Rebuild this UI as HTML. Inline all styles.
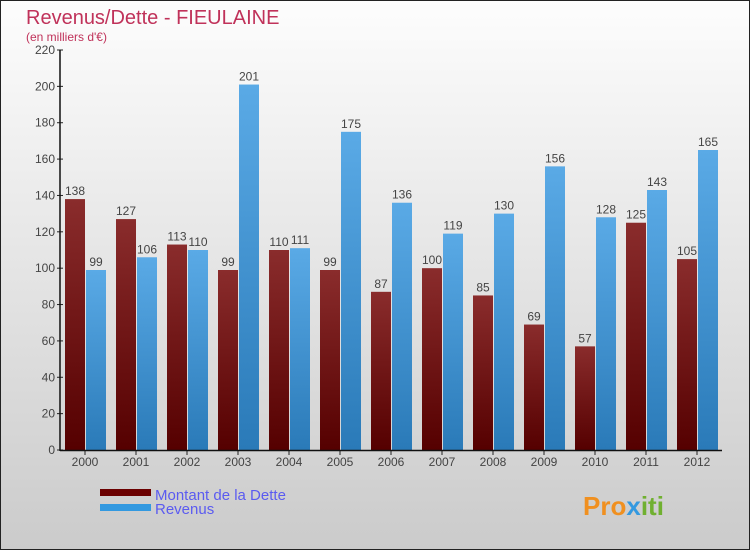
<!DOCTYPE html>
<html><head><meta charset="utf-8"><style>
body{margin:0;width:750px;height:550px;overflow:hidden;font-family:"Liberation Sans",sans-serif}
</style></head><body>
<svg width="750" height="550" xmlns="http://www.w3.org/2000/svg">
<defs>
<linearGradient id="bg" x1="0" y1="0" x2="0" y2="1"><stop offset="0" stop-color="#fdfdfd"/><stop offset="1" stop-color="#cbcbcb"/></linearGradient>
<linearGradient id="gd" x1="0" y1="0" x2="0" y2="1"><stop offset="0" stop-color="#8a2c2c"/><stop offset="1" stop-color="#550000"/></linearGradient>
<linearGradient id="gr" x1="0" y1="0" x2="0" y2="1"><stop offset="0" stop-color="#5aaae6"/><stop offset="1" stop-color="#2a7ab8"/></linearGradient>
</defs>
<rect x="0.5" y="0.5" width="749" height="549" fill="url(#bg)" stroke="#222"/>
<text x="26" y="24" font-size="20" fill="#c0325a">Revenus/Dette - FIEULAINE</text>
<text x="26" y="41" font-size="12" fill="#c0325a">(en milliers d'€)</text>
<g id="plot"></g>
<g>
<rect x="100" y="489" width="51" height="7" fill="#6b0000"/>
<text x="155" y="500" font-size="15" fill="#5b5bf0">Montant de la Dette</text>
<rect x="100" y="504" width="51" height="7" fill="#3399e0"/>
<text x="155" y="514" font-size="15" fill="#5b5bf0">Revenus</text>
</g>
<text x="583" y="515" font-size="26" font-weight="bold" fill="#f09020">Pro<tspan fill="#3399e0">x</tspan><tspan fill="#70b030">iti</tspan></text>
</svg>
<script>
const years=["2000","2001","2002","2003","2004","2005","2006","2007","2008","2009","2010","2011","2012"];
const dette=[138,127,113,99,110,99,87,100,85,69,57,125,105];
const revenus=[99,106,110,201,111,175,136,119,130,156,128,143,165];
const ticks=[0,20,40,60,80,100,120,140,160,180,200,220];
const NS="http://www.w3.org/2000/svg";
const g=document.getElementById('plot');
const y=v=>450-v*400/220;
const xc=i=>85+51*i;
function el(t,a){const e=document.createElementNS(NS,t);for(const k in a)e.setAttribute(k,a[k]);g.appendChild(e);return e;}
ticks.forEach(t=>{
 const l=el('line',{x1:57,x2:63,y1:y(t),y2:y(t),stroke:'#222'});
 
 
 const tx=el('text',{x:55,y:y(t)+4,'font-size':12,fill:'#444','text-anchor':'end'});
 tx.textContent=t;
 
 
});
years.forEach((yr,i)=>{
 const c=xc(i);
 const b1=el('rect',{x:c-20,y:y(dette[i]),width:20,height:450-y(dette[i]),fill:'url(#gd)'});
 
 
 const b2=el('rect',{x:c+1,y:y(revenus[i]),width:20,height:450-y(revenus[i]),fill:'url(#gr)'});
 
 
 const v1=el('text',{x:c-10,y:y(dette[i])-4,'font-size':12,fill:'#444','text-anchor':'middle'});
 v1.textContent=dette[i];
 
 
 const v2=el('text',{x:c+11,y:y(revenus[i])-4,'font-size':12,fill:'#444','text-anchor':'middle'});
 v2.textContent=revenus[i];
 
 
 const tk=el('line',{x1:c,x2:c,y1:450,y2:455,stroke:'#222'});
 
 
 const xl=el('text',{x:c,y:466,'font-size':12,fill:'#444','text-anchor':'middle'});
 xl.textContent=yr;
 
 
});
const ya=el('line',{x1:60,x2:60,y1:50,y2:451,stroke:'#111','stroke-width':1.5});


const xa=el('line',{x1:60,x2:722,y1:450.5,y2:450.5,stroke:'#111','stroke-width':1.5});


</script>
</body></html>
